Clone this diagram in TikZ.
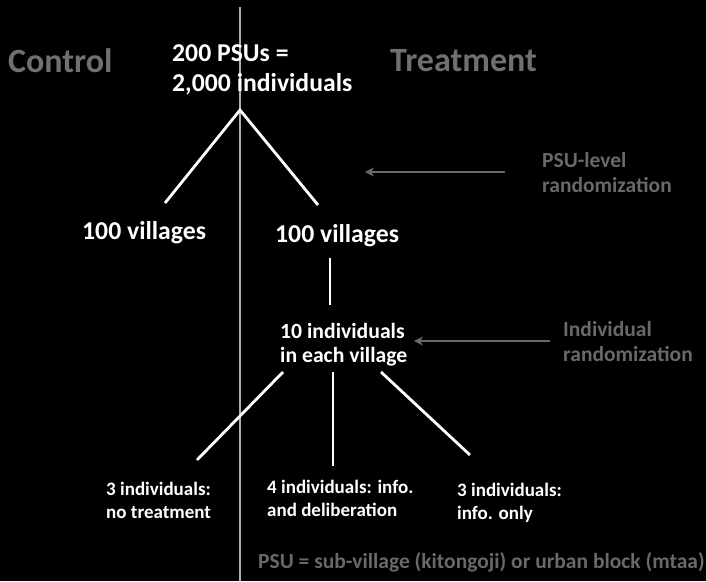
\documentclass[tikz,border=0pt]{standalone}
\usepackage{fontspec}
\setmainfont{Carlito}
\usetikzlibrary{arrows.meta}
\definecolor{hdrgray}{RGB}{112,112,112}
\definecolor{notegray}{RGB}{105,105,105}
\definecolor{divgray}{RGB}{175,175,175}
\begin{document}
\begin{tikzpicture}[x=1pt,y=-1pt,
  head/.style={font=\fontsize{34}{38}\selectfont\bfseries, text=hdrgray, inner sep=0pt, anchor=west},
  big/.style={font=\fontsize{25.7}{30}\selectfont\bfseries, text=white, inner sep=0pt, align=left},
  mid/.style={font=\fontsize{21.7}{24}\selectfont\bfseries, text=white, inner sep=0pt, align=left},
  small/.style={font=\fontsize{19}{23}\selectfont\bfseries, text=white, inner sep=0pt, align=left},
  note/.style={font=\fontsize{21.5}{25}\selectfont\bfseries, text=notegray, inner sep=0pt, align=left},
  branch/.style={draw=white, line width=2.8pt},
  pointer/.style={draw=notegray, line width=2.8pt, -{Stealth[length=9pt,width=9pt]}},
]
\fill[black] (0,0) rectangle (706,581);
\useasboundingbox (0,0) rectangle (706,581);
% divider
\coordinate (dtop) at (240,7);
\coordinate (dbot) at (240,581);
\draw[divgray, line width=2pt] (dtop) -- (dbot);
% headers
\node[head] (ctrl) at (8,61) {Control};
\node[head] (trt) at (390,61) {Treatment};
% root
\node[big, anchor=west] (root) at (172,70) {200 PSUs =\\2,000 individuals};
% villages
\node[big, anchor=west] (vl) at (82,233) {100 villages};
\node[big, anchor=west] (vr) at (275,236) {100 villages};
% individuals
\node[mid, anchor=west] (ind) at (280,345) {10 individuals\\in each village};
% leaves
\node[small, anchor=west] (l1) at (106,500) {3 individuals:\\no treatment};
\node[small, anchor=west] (l2) at (267,498) {4 individuals: info.\\and deliberation};
\node[small, anchor=west] (l3) at (457,503) {3 individuals:\\info. only};
% notes
\node[note, anchor=west] (n1) at (542,173) {PSU-level\\randomization};
\node[note, anchor=west] (n2) at (563,342) {Individual\\randomization};
\node[font=\fontsize{21.5}{25}\selectfont\bfseries, text=notegray, inner sep=0pt, anchor=west] (foot) at (258,562) {PSU = sub-village (kitongoji) or urban block (mtaa)};
% branch coordinates
\coordinate (apex) at (240,110);
\coordinate (al) at (165,203);
\coordinate (ar) at (318,205);
\coordinate (vt) at (330,258);
\coordinate (vb) at (330,305);
\coordinate (s1) at (283,372);
\coordinate (s2) at (333,372);
\coordinate (s3) at (381,372);
\coordinate (e1) at (197,460);
\coordinate (e2) at (333,466);
\coordinate (e3) at (470,455);
\draw[branch] (al) -- (apex) -- (ar);
\draw[branch] (vt) -- (vb);
\draw[branch] (s1) -- (e1);
\draw[branch] (s2) -- (e2);
\draw[branch] (s3) -- (e3);
% pointers
\coordinate (p1s) at (505,172);
\coordinate (p1e) at (365,172);
\coordinate (p2s) at (550,341);
\coordinate (p2e) at (414,341);
\draw[pointer] (p1s) -- (p1e);
\draw[pointer] (p2s) -- (p2e);
\end{tikzpicture}
\end{document}
